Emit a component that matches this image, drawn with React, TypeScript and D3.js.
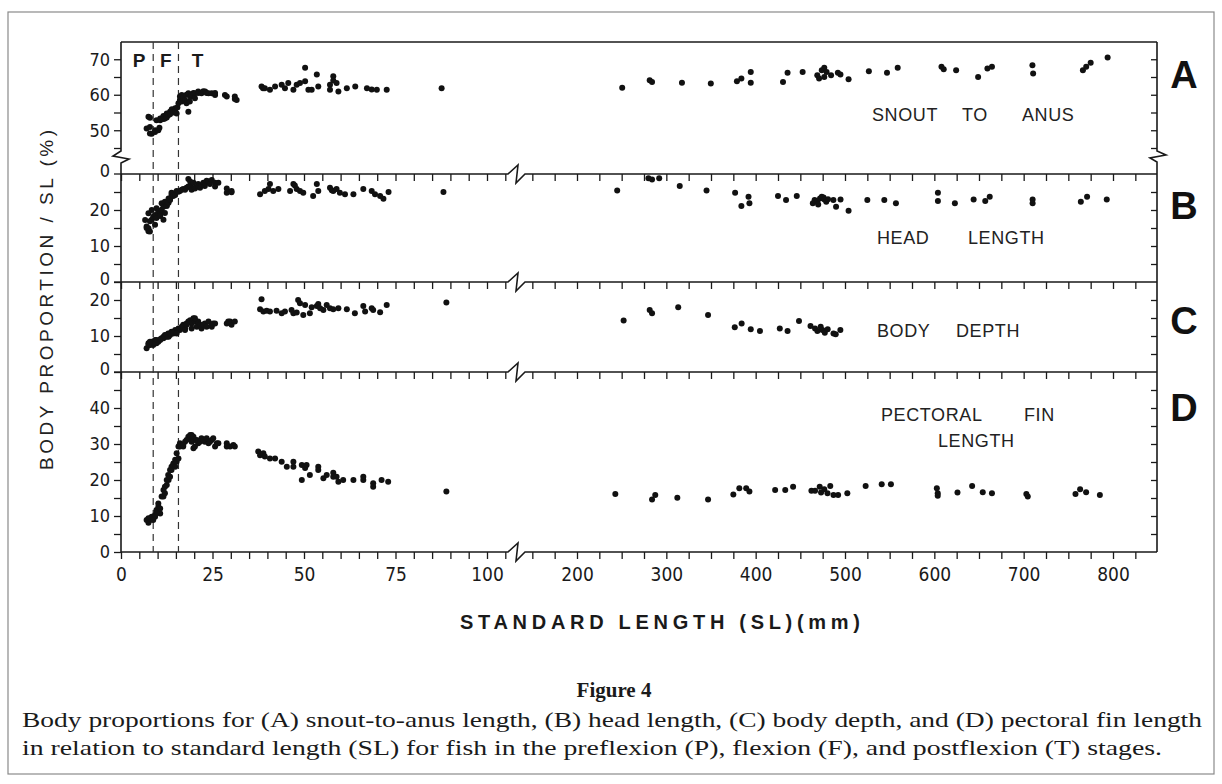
import React, { useRef, useEffect } from 'react';
import * as d3 from 'd3';

// [standard length (mm), proportion of SL (%)]
const snoutAnus: [number, number][] = [
  [7.0, 50.5], [7.5, 53.8], [7.9, 49.1], [7.9, 50.9], [7.9, 53.5], [8.4, 49.0], [9.3, 49.5], [9.3, 50.0],
  [9.7, 52.8], [10.2, 50.0], [10.5, 50.7], [10.7, 52.8], [10.7, 53.3], [11.1, 53.3], [11.6, 54.0], [11.6, 53.2],
  [12.0, 53.3], [12.5, 54.7], [12.5, 53.6], [12.9, 54.2], [13.4, 55.2], [13.4, 54.5], [13.8, 55.7], [13.9, 55.9],
  [14.3, 55.0], [14.8, 56.2], [14.8, 55.3], [15.2, 54.7], [15.4, 56.4], [15.7, 57.6], [16.1, 58.5], [16.1, 59.5],
  [16.6, 59.9], [16.6, 58.1], [17.0, 59.5], [17.0, 59.0], [17.5, 58.5], [17.9, 57.6], [17.9, 60.0], [18.4, 60.4],
  [18.4, 55.2], [18.8, 58.1], [18.9, 59.5], [19.3, 59.9], [19.8, 60.5], [20.2, 60.4], [20.2, 59.0], [21.1, 60.9],
  [21.1, 60.5], [22.0, 60.4], [22.5, 61.0], [23.0, 60.9], [23.4, 60.5], [23.9, 60.4], [24.8, 60.4], [25.7, 59.9],
  [25.7, 60.5], [28.4, 59.9], [28.9, 59.5], [31.1, 59.5], [31.1, 58.8], [31.6, 58.5],
  [38.4, 62.3], [38.8, 61.8], [39.3, 61.8], [40.7, 61.4], [42.1, 62.3], [43.9, 62.8], [44.8, 61.8], [45.7, 63.3],
  [47.1, 61.4], [48.0, 62.8], [48.9, 63.3], [50.3, 67.6], [50.3, 63.8], [51.2, 61.4], [52.1, 61.4], [53.5, 65.7],
  [53.9, 62.3], [57.1, 62.8], [57.1, 61.4], [58.0, 65.2], [58.0, 64.0], [58.9, 63.3], [59.4, 60.9], [61.7, 61.8],
  [64.0, 62.3], [67.2, 61.8], [68.5, 61.5], [69.9, 61.4], [72.6, 61.4], [87.6, 61.8],
  [250.6, 62.0], [281.4, 64.1], [284, 63.6], [317.5, 63.4], [349.8, 63.2], [379, 63.8], [384, 64.6], [394.5, 66.4],
  [394.5, 63.4], [430.6, 63.6], [435.7, 66.2], [452.6, 66.4], [469, 65.5], [471, 64.6], [474, 66.9], [476.8, 67.6],
  [476.8, 65.0], [479.4, 66.4], [484.4, 65.5], [492, 66.2], [494.9, 65.7], [504, 64.4], [526.7, 66.6], [547, 66.2],
  [559, 67.6], [608, 67.9], [610.5, 67.2], [624.4, 66.9], [649, 65.0], [659.4, 67.4], [664.5, 67.9], [709.8, 68.3],
  [710.6, 66.0], [766.3, 66.9], [770, 67.9], [775, 69.0], [794, 70.5],
];

const headLength: [number, number][] = [
  [6.6, 17.2], [7.0, 15.4], [7.0, 15.0], [7.5, 14.9], [7.5, 14.1], [7.9, 14.0], [7.5, 19.1], [7.9, 16.9],
  [8.4, 20.0], [8.4, 17.3], [8.8, 18.1], [9.3, 18.6], [9.3, 15.9], [9.7, 20.5], [9.7, 17.8], [10.2, 19.5],
  [10.2, 19.2], [10.7, 19.1], [10.7, 18.3], [11.1, 21.9], [11.1, 20.1], [11.6, 20.9], [11.6, 17.3], [12.0, 22.3],
  [12.0, 19.2], [12.5, 21.4], [12.5, 21.1], [13.0, 23.2], [13.0, 22.0], [13.4, 22.8], [13.4, 23.0], [13.8, 24.2],
  [13.8, 24.8], [14.3, 24.6], [14.3, 23.9], [14.8, 24.2], [15.2, 25.3], [15.7, 25.1], [16.1, 25.3], [16.6, 25.6],
  [17.0, 25.8], [17.5, 25.6], [17.9, 26.2], [18.4, 28.6], [18.4, 26.5], [18.9, 26.7], [18.9, 27.9], [19.3, 25.6],
  [19.8, 27.6], [20.2, 26.2], [20.2, 26.0], [21.1, 27.2], [21.1, 26.5], [21.6, 26.2], [22.0, 26.9], [22.5, 27.6],
  [22.9, 26.7], [23.0, 27.4], [23.4, 28.1], [23.9, 27.9], [24.3, 27.2], [24.8, 28.3], [25.7, 27.6], [26.6, 27.6],
  [25.7, 26.5], [28.9, 24.8], [28.9, 26.0], [30.2, 25.3], [30.2, 24.9],
  [38.0, 24.4], [39.3, 25.3], [40.3, 25.8], [40.7, 27.2], [41.6, 25.3], [43.0, 25.8], [46.2, 25.3], [47.1, 27.2],
  [47.5, 26.8], [48.0, 25.8], [48.9, 25.3], [49.8, 24.8], [52.5, 23.9], [53.5, 27.2], [53.9, 25.3], [57.1, 26.2],
  [57.6, 25.5], [58.0, 25.3], [58.9, 25.8], [59.8, 24.8], [61.2, 24.4], [63.5, 24.4], [66.2, 25.8], [68.5, 25.3],
  [69.4, 24.4], [70.8, 23.9], [71.7, 23.1], [73.1, 25.0], [88.1, 25.0],
  [245, 25.4], [280, 28.8], [284, 28.5], [292, 28.8], [315, 26.7], [345, 25.4], [377, 24.8], [384, 21.1],
  [392, 23.7], [393, 21.9], [425, 23.9], [434, 22.8], [446, 23.9], [464, 21.9], [466, 22.8], [469, 22.3],
  [470, 21.5], [472, 23.2], [474, 23.7], [476, 23.5], [477, 22.9], [479, 22.3], [481, 23.0], [487, 22.8],
  [490, 20.9], [495, 22.9], [504, 19.8], [525, 22.8], [544, 22.8], [557, 21.9], [604, 24.8], [604, 22.5],
  [623, 21.9], [644, 22.9], [657, 22.5], [662, 23.7], [710, 22.9], [710, 21.9], [764, 22.3], [771, 23.7],
  [793, 22.9],
];

const bodyDepth: [number, number][] = [
  [7.0, 6.6], [7.5, 8.0], [7.9, 7.5], [8.4, 8.4], [8.8, 7.5], [9.3, 8.9], [9.7, 8.0], [10.2, 8.4],
  [10.7, 8.9], [11.1, 9.4], [11.6, 9.8], [12.0, 10.3], [12.5, 9.8], [12.9, 10.7], [13.4, 10.3], [13.8, 11.2],
  [14.3, 10.7], [14.8, 11.7], [15.2, 11.2], [15.7, 12.1], [16.1, 11.7], [16.6, 12.6], [17.0, 13.1], [17.5, 12.1],
  [17.9, 13.5], [18.4, 14.0], [18.9, 14.4], [19.3, 13.5], [19.8, 14.9], [20.2, 14.0], [20.7, 12.6], [21.1, 14.0],
  [21.6, 13.1], [22.0, 12.1], [22.9, 13.5], [23.9, 14.0], [24.8, 12.6], [25.2, 13.5], [28.9, 13.5], [29.8, 14.0],
  [30.2, 13.1], [7.5, 7.5], [7.9, 8.4], [9.3, 8.0], [9.7, 8.9], [10.7, 9.1], [11.6, 9.4], [12.0, 9.8],
  [12.5, 10.3], [13.0, 9.8], [13.4, 10.7], [14.3, 10.9], [15.2, 10.7], [16.1, 12.1], [17.0, 12.6], [17.5, 11.7],
  [17.9, 13.1], [19.3, 12.1], [20.2, 14.9], [22.5, 13.1], [23.4, 12.6], [24.8, 13.1], [25.7, 13.5], [29.3, 14.0],
  [31.1, 14.0],
  [38.4, 20.2], [38.0, 17.4], [38.9, 16.8], [39.8, 17.0], [40.7, 16.8], [42.5, 17.0], [43.9, 16.3], [44.8, 16.8],
  [46.6, 17.2], [47.1, 16.3], [48.0, 16.5], [48.4, 20.0], [48.9, 19.1], [49.8, 15.8], [50.3, 18.6], [51.6, 16.3],
  [52.1, 18.0], [53.5, 18.3], [53.9, 18.9], [54.4, 17.7], [55.3, 17.2], [56.2, 18.6], [57.1, 17.7], [58.0, 17.4],
  [59.4, 17.7], [61.7, 17.4], [63.9, 16.3], [66.2, 18.3], [66.7, 16.8], [68.5, 17.7], [68.9, 17.2], [70.8, 16.6],
  [72.6, 18.6], [88.9, 19.3],
  [252.2, 14.3], [281.4, 17.2], [284, 16.3], [313.3, 18.0], [346.7, 15.8], [376.6, 12.4], [384.3, 13.5], [394.5, 11.9],
  [404.8, 11.4], [427, 12.1], [435.7, 11.4], [448.5, 14.2], [461.4, 12.8], [466.5, 12.1], [469.1, 11.4], [472.8, 12.6],
  [474.7, 11.7], [477.4, 10.9], [480.6, 11.9], [487.1, 10.7], [489.6, 10.5], [494.8, 11.7],
];

const pectoralFin: [number, number][] = [
  [7.0, 8.9], [7.5, 9.4], [7.9, 8.9], [8.4, 9.8], [9.3, 9.8], [9.7, 11.7], [10.2, 12.6], [10.7, 10.7],
  [10.2, 13.5], [11.1, 15.4], [11.6, 17.2], [12.0, 18.1], [12.5, 20.0], [12.9, 21.4], [13.4, 22.8], [13.8, 23.7],
  [14.3, 24.6], [14.8, 25.6], [15.2, 27.4], [15.7, 29.3], [16.1, 30.2], [16.6, 29.7], [17.0, 29.3], [17.5, 30.6],
  [18.4, 32.0], [18.9, 31.6], [19.3, 32.5], [19.8, 28.8], [20.2, 31.1], [21.1, 30.2], [22.0, 31.6], [22.9, 30.6],
  [23.9, 30.2], [24.8, 31.1], [26.2, 30.2], [28.9, 30.2], [29.8, 29.3],
  [7.5, 8.1], [7.9, 9.3], [8.8, 8.9], [9.3, 10.3], [9.7, 11.2], [10.7, 12.1], [11.6, 15.4], [12.0, 16.3],
  [12.5, 18.6], [13.0, 20.0], [13.4, 20.9], [13.8, 22.8], [14.3, 24.2], [14.8, 23.7], [15.2, 25.1], [15.7, 26.0],
  [16.1, 29.3], [17.0, 29.7], [17.9, 31.1], [18.9, 32.5], [19.3, 30.6], [19.8, 32.0], [20.2, 29.3], [20.7, 31.1],
  [21.6, 30.6], [22.5, 31.1], [23.4, 31.6], [24.3, 30.6], [25.2, 31.6], [25.7, 29.3], [26.6, 30.2], [28.9, 29.3],
  [30.7, 29.7], [31.1, 29.3],
  [37.5, 27.9], [38.0, 26.9], [38.9, 27.4], [39.3, 26.5], [40.7, 26.0], [42.1, 26.0], [43.9, 25.1], [45.3, 23.7],
  [47.1, 25.1], [47.1, 23.7], [49.4, 24.2], [49.4, 20.0], [50.3, 23.3], [50.7, 24.2], [51.6, 21.4], [53.9, 23.7],
  [53.9, 22.8], [55.3, 20.5], [56.2, 21.4], [58.0, 22.0], [58.0, 20.9], [58.9, 20.9], [59.4, 19.5], [60.7, 20.0],
  [63.5, 20.0], [66.2, 20.0], [66.2, 20.9], [68.9, 19.1], [68.9, 18.1], [71.2, 20.0], [73.0, 19.5], [88.9, 16.8],
  [242.9, 16.1], [284, 14.6], [287.6, 15.8], [312.3, 15.1], [346.7, 14.6], [375, 16.0], [381.7, 17.7], [389.4, 17.7],
  [393, 16.8], [421.8, 17.2], [433.1, 17.2], [441.9, 18.1], [462.4, 17.0], [466.5, 17.0], [471.7, 18.1], [473.2, 16.5],
  [476.8, 17.4], [480.4, 16.3], [483.5, 18.3], [487.1, 15.8], [492.3, 15.8], [502.6, 16.3], [523.1, 18.3], [541.1, 18.8],
  [551.4, 18.8], [602.8, 17.7], [603.8, 16.3], [603.8, 15.6], [625.9, 16.5], [642.3, 18.3], [654.2, 16.6], [664.5, 16.3],
  [703, 16.1], [704.6, 15.4], [758, 16.1], [763.2, 17.4], [769.9, 16.6], [785.3, 15.8],
];

// stage boundaries (mm) and stage letters
const stageBounds = [8.8, 15.7];
const stageNames = ['P', 'F', 'T'];

// x tick labels on the two sides of the broken axis
const xLabelsLow = [0, 25, 50, 75, 100];
const xLabelsHigh = [200, 300, 400, 500, 600, 700, 800];

const panelLetters = ['A', 'B', 'C', 'D'];
const panelTitles = [['SNOUT', 'TO', 'ANUS'], ['HEAD', 'LENGTH'], ['BODY', 'DEPTH'], ['PECTORAL', 'FIN', 'LENGTH']];
const yTickLabels = [[50, 60, 70], [10, 20], [10, 20], [0, 10, 20, 30, 40]];

const captionTitle = 'Figure 4';
const captionLines = [
  'Body proportions for (A) snout-to-anus length, (B) head length, (C) body depth, and (D) pectoral fin length',
  'in relation to standard length (SL) for fish in the preflexion (P), flexion (F), and postflexion (T) stages.',
];

const W = 1222;
const H = 784;
const LEFT = 121;
const RIGHT = 1157;
const TOP = 42;
const BOTTOM = 552;

const SANS = "'Liberation Sans', Arial, sans-serif";
const NARROW = "'Liberation Sans Narrow', 'DejaVu Sans Condensed', 'Liberation Sans', sans-serif";
const SERIF = "'Liberation Serif', 'Times New Roman', serif";
const INK = '#1a1a1a';

function App() {
  const ref = useRef<SVGSVGElement>(null);

  useEffect(() => {
    const svg = d3.select(ref.current);
    svg.selectAll('*').remove();

    const xLow = d3.scaleLinear().domain([0, 100]).range([121, 487]);
    const xHigh = d3.scaleLinear().domain([200, 800]).range([577, 1113]);
    const sx = (v: number) => (v < 120 ? xLow(v) : xHigh(v));

    const panels = [
      { y: d3.scaleLinear().domain([45, 75]).range([148, 41.5]), ticks: [45, 50, 55, 60, 65, 70], bottom: 174, data: snoutAnus,
        words: [[872, 121], [962, 121], [1022, 121]], letterY: 88 },
      { y: d3.scaleLinear().domain([0, 30]).range([282, 174]), ticks: [0, 5, 10, 15, 20, 25], bottom: 282, data: headLength,
        words: [[877, 244], [968, 244]], letterY: 219 },
      { y: d3.scaleLinear().domain([0, 25]).range([372, 282]), ticks: [0, 5, 10, 15, 20], bottom: 372, data: bodyDepth,
        words: [[877, 337], [956, 337]], letterY: 334 },
      { y: d3.scaleLinear().domain([0, 50]).range([552, 372]), ticks: [0, 5, 10, 15, 20, 25, 30, 35, 40, 45], bottom: 552, data: pectoralFin,
        words: [[881, 421], [1024, 421], [938, 447]], letterY: 421 },
    ];

    // outer figure frame
    svg.append('rect')
      .attr('x', 8).attr('y', 12).attr('width', 1206).attr('height', 762)
      .attr('fill', 'none').attr('stroke', '#8a8a8a').attr('stroke-width', 1.2);

    const frame = svg.append('g').attr('stroke', INK).attr('stroke-width', 1.6).attr('fill', 'none');

    // top of panel A
    frame.append('path').attr('d', `M${LEFT},${TOP}H${RIGHT}`);

    // separator lines and bottom axis, with break at ~115 mm
    const hLine = (y: number) => `M${LEFT},${y}H508L518,${y - 9}L516,${y + 9}L525,${y}H${RIGHT}`;
    panels.forEach(p => frame.append('path').attr('d', hLine(p.bottom)));

    // left and right frame with break in panel A
    frame.append('path').attr('d', `M${LEFT},${TOP}V151L113,156L129,159L${LEFT},163V${BOTTOM}`);
    frame.append('path').attr('d', `M${RIGHT},${TOP}V151L1166,155L1150,158L${RIGHT},162V${BOTTOM}`);

    // x ticks hanging down from every horizontal line
    panels.forEach((p, i) => {
      const last = i === panels.length - 1;
      const low = d3.axisBottom(xLow)
        .tickValues(d3.range(0, 106, 5))
        .tickSize(7).tickPadding(9)
        .tickFormat(d => (last && xLabelsLow.includes(+d) ? String(d) : ''));
      const high = d3.axisBottom(xHigh)
        .tickValues(d3.range(150, 826, 25))
        .tickSize(7).tickPadding(9)
        .tickFormat(d => (last && xLabelsHigh.includes(+d) ? String(d) : ''));
      [low, high].forEach(ax => {
        const g = svg.append('g').attr('transform', `translate(0,${p.bottom})`).call(ax);
        g.select('.domain').remove();
        g.selectAll('line').attr('stroke', INK).attr('stroke-width', 1.3);
        g.selectAll('text').attr('font-family', NARROW).attr('font-size', 19).attr('fill', INK);
      });
    });

    // y axes
    panels.forEach((p, i) => {
      const left = d3.axisLeft(p.y)
        .tickValues(p.ticks)
        .tickSize(7).tickPadding(4)
        .tickFormat(d => (yTickLabels[i].includes(+d) ? String(d) : ''));
      const gl = svg.append('g').attr('transform', `translate(${LEFT},0)`).call(left);
      gl.select('.domain').remove();
      gl.selectAll('line').attr('stroke', INK).attr('stroke-width', 1.3);
      gl.selectAll('text').attr('font-family', NARROW).attr('font-size', 18).attr('fill', INK);

      const right = d3.axisRight(p.y).tickValues(p.ticks.filter(t => t > 0 || i === 0)).tickSize(-6).tickFormat(() => '');
      const gr = svg.append('g').attr('transform', `translate(${RIGHT},0)`).call(right);
      gr.select('.domain').remove();
      gr.selectAll('line').attr('stroke', INK).attr('stroke-width', 1.3);
    });

    // zero labels of panels A, B, C sit on the separator lines, just above the next panel's labels
    [174, 282, 372].forEach(y => {
      svg.append('line').attr('x1', LEFT - 7).attr('x2', LEFT).attr('y1', y).attr('y2', y)
        .attr('stroke', INK).attr('stroke-width', 1.3);
      svg.append('text').attr('x', LEFT - 11).attr('y', y - 3).attr('dy', '0.32em')
        .attr('text-anchor', 'end').attr('font-family', NARROW).attr('font-size', 18).attr('fill', INK)
        .text('0');
    });

    // stage boundaries
    svg.selectAll('.stage')
      .data(stageBounds)
      .join('line')
      .attr('class', 'stage')
      .attr('x1', d => sx(d)).attr('x2', d => sx(d))
      .attr('y1', TOP).attr('y2', BOTTOM)
      .attr('stroke', '#333').attr('stroke-width', 1.2).attr('stroke-dasharray', '7,5');

    const stageX = [(LEFT + sx(stageBounds[0])) / 2 + 2, (sx(stageBounds[0]) + sx(stageBounds[1])) / 2, sx(stageBounds[1]) + 19];
    svg.selectAll('.stage-name')
      .data(stageNames)
      .join('text')
      .attr('class', 'stage-name')
      .attr('x', (_, i) => stageX[i]).attr('y', 67)
      .attr('text-anchor', 'middle')
      .attr('font-family', SANS).attr('font-size', 19).attr('font-weight', 'bold').attr('fill', INK)
      .text(d => d);

    // data points
    panels.forEach(p => {
      svg.append('g')
        .selectAll('circle')
        .data(p.data)
        .join('circle')
        .attr('cx', d => sx(d[0]))
        .attr('cy', d => p.y(d[1]))
        .attr('r', 3)
        .attr('fill', '#111');
    });

    // panel titles and letters
    panels.forEach((p, i) => {
      panelTitles[i].forEach((w, j) => {
        svg.append('text')
          .attr('x', p.words[j][0]).attr('y', p.words[j][1])
          .attr('font-family', SANS).attr('font-size', 18).attr('letter-spacing', 0.6)
          .attr('fill', '#222')
          .text(w);
      });
      svg.append('text')
        .attr('x', 1184).attr('y', p.letterY)
        .attr('text-anchor', 'middle')
        .attr('font-family', SANS).attr('font-size', 38).attr('font-weight', 'bold').attr('fill', '#111')
        .text(panelLetters[i]);
    });

    // axis titles
    svg.append('text')
      .attr('transform', 'translate(53,300) rotate(-90)')
      .attr('text-anchor', 'middle')
      .attr('font-family', SANS).attr('font-size', 19).attr('fill', '#222')
      .attr('textLength', 340).attr('lengthAdjust', 'spacing')
      .text('BODY  PROPORTION / SL (%)');

    svg.append('text')
      .attr('x', 660).attr('y', 629)
      .attr('text-anchor', 'middle')
      .attr('font-family', SANS).attr('font-size', 20).attr('font-weight', 'bold').attr('fill', INK)
      .attr('textLength', 400).attr('lengthAdjust', 'spacing')
      .text('STANDARD LENGTH (SL)(mm)');

    // caption
    svg.append('text')
      .attr('x', 614).attr('y', 697)
      .attr('text-anchor', 'middle')
      .attr('font-family', SERIF).attr('font-size', 21).attr('font-weight', 'bold').attr('fill', INK)
      .text(captionTitle);

    const capWidths = [1180, 1140];
    captionLines.forEach((line, i) => {
      svg.append('text')
        .attr('x', 22).attr('y', 727 + i * 28)
        .attr('font-family', SERIF).attr('font-size', 21).attr('fill', INK)
        .attr('textLength', capWidths[i]).attr('lengthAdjust', 'spacingAndGlyphs')
        .text(line);
    });
  }, []);

  return (
    <svg
      ref={ref}
      width={W}
      height={H}
      style={{ position: 'absolute', left: 0, top: 0, background: '#fff' }}
    />
  );
}

export default App;
